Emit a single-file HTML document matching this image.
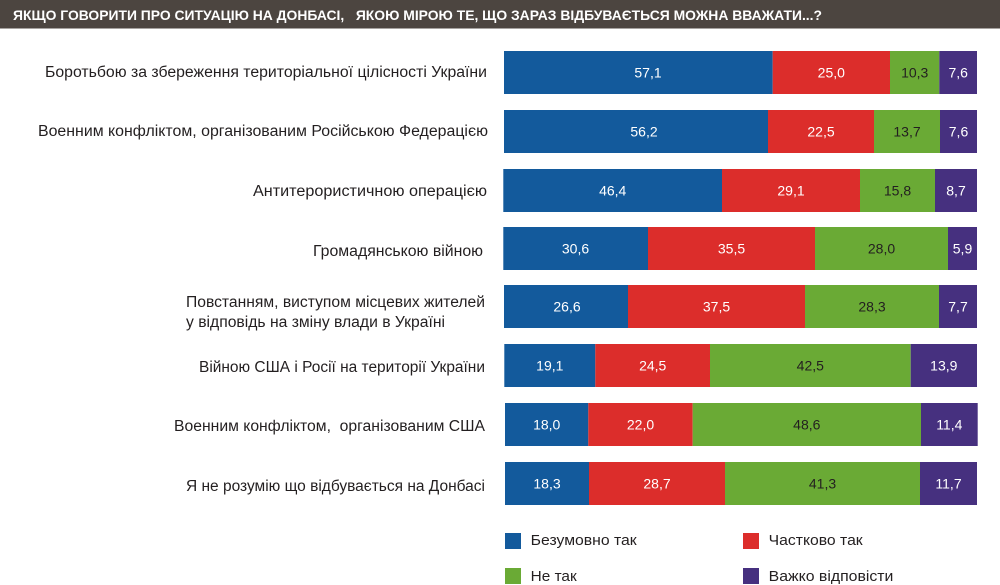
<!DOCTYPE html>
<html>
<head>
<meta charset="utf-8">
<style>
html,body{margin:0;padding:0;background:#fff;}
svg{display:block;}
.lbl{font-family:"Liberation Sans","Noto Sans CJK SC",sans-serif;font-size:15.5px;fill:#231f20;}
.v{font-family:"Liberation Sans","Noto Sans CJK SC",sans-serif;font-size:14px;text-anchor:middle;}
.w{fill:#ffffff;}
.d{fill:#231f20;}
.lg{font-family:"Liberation Sans","Noto Sans CJK SC",sans-serif;font-size:15px;fill:#231f20;}
</style>
</head>
<body>
<svg width="1000" height="585" viewBox="0 0 1000 585" xmlns="http://www.w3.org/2000/svg">
<rect x="0" y="0" width="1000" height="28.5" fill="#4c4540"/>
<text x="13" y="20" font-family="Liberation Sans, sans-serif" font-weight="bold" font-size="14" fill="#ffffff" textLength="809" lengthAdjust="spacingAndGlyphs" xml:space="preserve">ЯКЩО ГОВОРИТИ ПРО СИТУАЦІЮ НА ДОНБАСІ,   ЯКОЮ МІРОЮ ТЕ, ЩО ЗАРАЗ ВІДБУВАЄТЬСЯ МОЖНА ВВАЖАТИ...?</text>

<!-- Labels -->
<text class="lbl" x="487" y="77" text-anchor="end" textLength="442" lengthAdjust="spacingAndGlyphs">Боротьбою за збереження територіальної цілісності України</text>
<text class="lbl" x="488" y="136" text-anchor="end" textLength="450" lengthAdjust="spacingAndGlyphs">Военним конфліктом, організованим Російською Федерацією</text>
<text class="lbl" x="487" y="196" text-anchor="end" textLength="234" lengthAdjust="spacingAndGlyphs">Антитерористичною операцією</text>
<text class="lbl" x="483" y="256" text-anchor="end" textLength="170" lengthAdjust="spacingAndGlyphs">Громадянською війною</text>
<text class="lbl" x="186" y="307" textLength="299" lengthAdjust="spacingAndGlyphs">Повстанням, виступом місцевих жителей</text>
<text class="lbl" x="186" y="327" textLength="259" lengthAdjust="spacingAndGlyphs">у відповідь на зміну влади в Україні</text>
<text class="lbl" x="485" y="372" text-anchor="end" textLength="286" lengthAdjust="spacingAndGlyphs">Війною США і Росії на території України</text>
<text class="lbl" x="485" y="431" text-anchor="end" textLength="311" lengthAdjust="spacingAndGlyphs" xml:space="preserve">Военним конфліктом,  організованим США</text>
<text class="lbl" x="485" y="491" text-anchor="end" textLength="299" lengthAdjust="spacingAndGlyphs">Я не розумію що відбувається на Донбасі</text>

<!-- Bar 1 -->
<rect x="504" y="51" width="268.7" height="43" fill="#135a9c"/>
<rect x="772.7" y="51" width="117.3" height="43" fill="#dc2d2b"/>
<rect x="890" y="51" width="49.3" height="43" fill="#6aaa35"/>
<rect x="939.3" y="51" width="37.7" height="43" fill="#46307f"/>
<text class="v w" x="648" y="77.5">57,1</text>
<text class="v w" x="831.3" y="77.5">25,0</text>
<text class="v d" x="914.7" y="77.5">10,3</text>
<text class="v w" x="958.2" y="77.5">7,6</text>

<!-- Bar 2 -->
<rect x="504" y="110" width="264" height="43" fill="#135a9c"/>
<rect x="768" y="110" width="106" height="43" fill="#dc2d2b"/>
<rect x="874" y="110" width="66" height="43" fill="#6aaa35"/>
<rect x="940" y="110" width="37" height="43" fill="#46307f"/>
<text class="v w" x="644" y="136.5">56,2</text>
<text class="v w" x="821" y="136.5">22,5</text>
<text class="v d" x="907" y="136.5">13,7</text>
<text class="v w" x="958.5" y="136.5">7,6</text>

<!-- Bar 3 -->
<rect x="503.3" y="169" width="218.7" height="43" fill="#135a9c"/>
<rect x="722" y="169" width="138" height="43" fill="#dc2d2b"/>
<rect x="860" y="169" width="75" height="43" fill="#6aaa35"/>
<rect x="935" y="169" width="42" height="43" fill="#46307f"/>
<text class="v w" x="612.7" y="195.5">46,4</text>
<text class="v w" x="791" y="195.5">29,1</text>
<text class="v d" x="897.5" y="195.5">15,8</text>
<text class="v w" x="956" y="195.5">8,7</text>

<!-- Bar 4 -->
<rect x="503.3" y="227" width="144.7" height="43" fill="#135a9c"/>
<rect x="648" y="227" width="167" height="43" fill="#dc2d2b"/>
<rect x="815" y="227" width="133" height="43" fill="#6aaa35"/>
<rect x="948" y="227" width="29" height="43" fill="#46307f"/>
<text class="v w" x="575.5" y="253.5">30,6</text>
<text class="v w" x="731.5" y="253.5">35,5</text>
<text class="v d" x="881.5" y="253.5">28,0</text>
<text class="v w" x="962.5" y="253.5">5,9</text>

<!-- Bar 5 -->
<rect x="504" y="285" width="124" height="43" fill="#135a9c"/>
<rect x="628" y="285" width="177" height="43" fill="#dc2d2b"/>
<rect x="805" y="285" width="134" height="43" fill="#6aaa35"/>
<rect x="939" y="285" width="38" height="43" fill="#46307f"/>
<text class="v w" x="567" y="311.5">26,6</text>
<text class="v w" x="716.5" y="311.5">37,5</text>
<text class="v d" x="872" y="311.5">28,3</text>
<text class="v w" x="958" y="311.5">7,7</text>

<!-- Bar 6 -->
<rect x="504.3" y="344" width="91" height="43" fill="#135a9c"/>
<rect x="595.3" y="344" width="114.7" height="43" fill="#dc2d2b"/>
<rect x="710" y="344" width="200.7" height="43" fill="#6aaa35"/>
<rect x="910.7" y="344" width="66.3" height="43" fill="#46307f"/>
<text class="v w" x="549.8" y="370.5">19,1</text>
<text class="v w" x="652.7" y="370.5">24,5</text>
<text class="v d" x="810.3" y="370.5">42,5</text>
<text class="v w" x="943.8" y="370.5">13,9</text>

<!-- Bar 7 -->
<rect x="505" y="403" width="83.3" height="43" fill="#135a9c"/>
<rect x="588.3" y="403" width="104.4" height="43" fill="#dc2d2b"/>
<rect x="692.7" y="403" width="228.3" height="43" fill="#6aaa35"/>
<rect x="921" y="403" width="56.7" height="43" fill="#46307f"/>
<text class="v w" x="546.7" y="429.5">18,0</text>
<text class="v w" x="640.5" y="429.5">22,0</text>
<text class="v d" x="806.8" y="429.5">48,6</text>
<text class="v w" x="949.3" y="429.5">11,4</text>

<!-- Bar 8 -->
<rect x="505" y="462" width="84" height="43" fill="#135a9c"/>
<rect x="589" y="462" width="136" height="43" fill="#dc2d2b"/>
<rect x="725" y="462" width="195" height="43" fill="#6aaa35"/>
<rect x="920" y="462" width="57" height="43" fill="#46307f"/>
<text class="v w" x="547" y="488.5">18,3</text>
<text class="v w" x="657" y="488.5">28,7</text>
<text class="v d" x="822.5" y="488.5">41,3</text>
<text class="v w" x="948.5" y="488.5">11,7</text>

<!-- Legend -->
<rect x="505" y="533" width="16" height="16" fill="#135a9c"/>
<text class="lg" x="530.7" y="545" textLength="106" lengthAdjust="spacingAndGlyphs">Безумовно так</text>
<rect x="743" y="533" width="16" height="16" fill="#dc2d2b"/>
<text class="lg" x="768.7" y="545" textLength="94" lengthAdjust="spacingAndGlyphs">Частково так</text>
<rect x="505" y="568" width="16" height="16" fill="#6aaa35"/>
<text class="lg" x="530.7" y="581" textLength="46" lengthAdjust="spacingAndGlyphs">Не так</text>
<rect x="743" y="568" width="16" height="16" fill="#46307f"/>
<text class="lg" x="768.7" y="581" textLength="124.7" lengthAdjust="spacingAndGlyphs">Важко відповісти</text>
</svg>
</body>
</html>
